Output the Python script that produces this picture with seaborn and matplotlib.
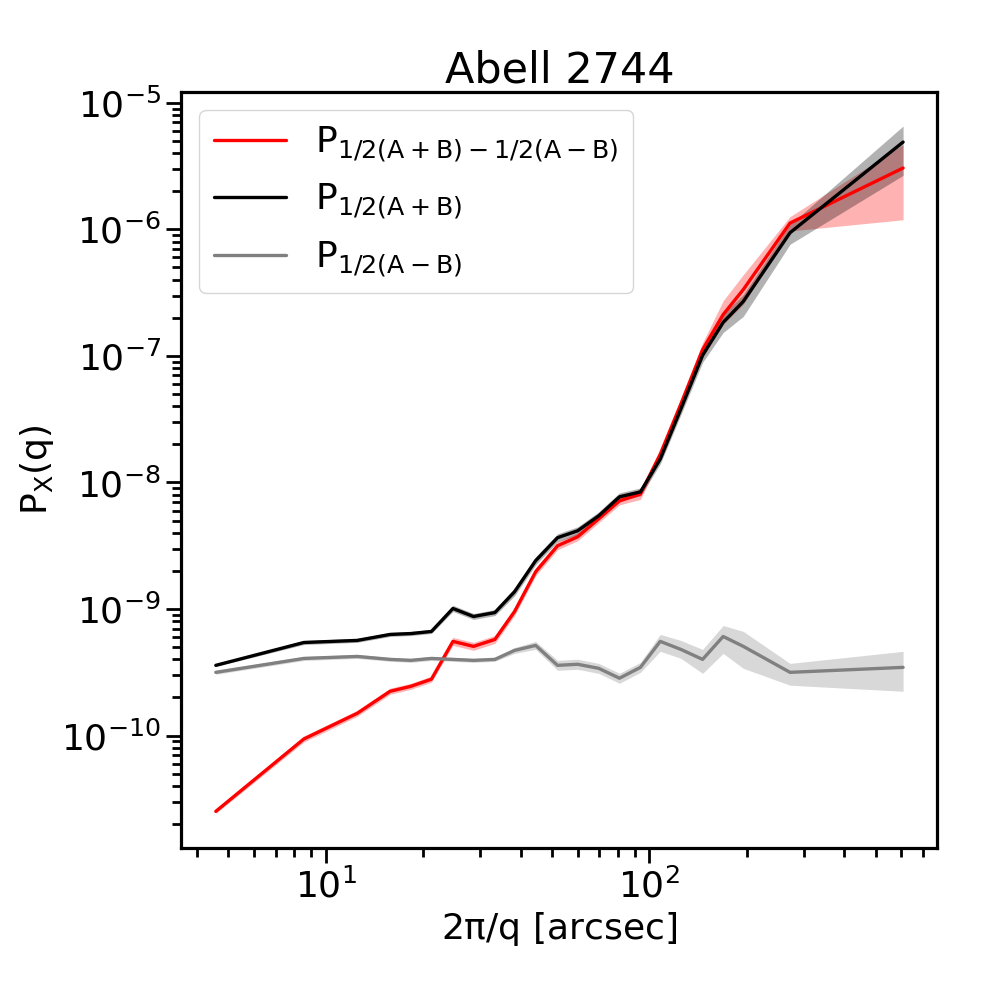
import numpy as np
import pandas as pd
import matplotlib
matplotlib.use('Agg')
import matplotlib.pyplot as plt
import seaborn as sns

# angular scale 2pi/q [arcsec]
scale = [4.57, 8.55, 12.5, 15.8, 18.3, 21.2, 24.7, 28.6, 33.3, 38.3, 44.5, 52.0,
         60.0, 69.7, 80.8, 93.8, 108, 125, 146, 169, 195, 272, 608]

# P_1/2(A+B) - 1/2(A-B)
p_diff = [2.52e-11, 9.4e-11, 1.50e-10, 2.24e-10, 2.45e-10, 2.79e-10, 5.55e-10, 5.07e-10,
          5.75e-10, 9.55e-10, 1.97e-9, 3.16e-9, 3.72e-9, 5.16e-9, 7.15e-9, 8.1e-9,
          1.67e-8, 4.15e-8, 1.12e-7, 2.12e-7, 3.34e-7, 1.12e-6, 3.05e-6]
p_diff_lo = [2.43e-11, 8.9e-11, 1.42e-10, 2.12e-10, 2.32e-10, 2.64e-10, 5.16e-10, 4.72e-10,
             5.35e-10, 8.88e-10, 1.83e-9, 2.94e-9, 3.46e-9, 4.80e-9, 6.65e-9, 7.35e-9,
             1.53e-8, 3.79e-8, 0.99e-7, 1.77e-7, 2.56e-7, 0.97e-6, 1.19e-6]
p_diff_hi = [2.62e-11, 9.93e-11, 1.58e-10, 2.37e-10, 2.59e-10, 2.95e-10, 5.97e-10, 5.45e-10,
             6.18e-10, 1.03e-9, 2.12e-9, 3.40e-9, 4.0e-9, 5.55e-9, 7.69e-9, 8.9e-9,
             1.83e-8, 4.54e-8, 1.27e-7, 2.73e-7, 4.38e-7, 1.26e-6, 4.67e-6]

# P_1/2(A+B)
p_sum = [3.59e-10, 5.44e-10, 5.65e-10, 6.3e-10, 6.4e-10, 6.65e-10, 1.01e-9, 8.73e-10,
         9.38e-10, 1.37e-9, 2.41e-9, 3.66e-9, 4.15e-9, 5.45e-9, 7.7e-9, 8.42e-9,
         1.53e-8, 3.79e-8, 1.01e-7, 1.84e-7, 2.69e-7, 9.4e-7, 4.89e-6]
p_sum_lo = [3.52e-10, 5.24e-10, 5.45e-10, 6.07e-10, 6.17e-10, 6.41e-10, 9.56e-10, 8.27e-10,
            8.88e-10, 1.27e-9, 2.24e-9, 3.40e-9, 3.86e-9, 5.07e-9, 7.16e-9, 7.83e-9,
            1.40e-8, 3.41e-8, 0.89e-7, 1.53e-7, 2.05e-7, 7.62e-7, 2.67e-6]
p_sum_hi = [3.66e-10, 5.64e-10, 5.86e-10, 6.53e-10, 6.64e-10, 6.90e-10, 1.07e-9, 9.22e-10,
            9.9e-10, 1.47e-9, 2.59e-9, 3.93e-9, 4.46e-9, 5.86e-9, 8.28e-9, 9.05e-9,
            1.68e-8, 4.21e-8, 1.14e-7, 2.14e-7, 3.05e-7, 1.09e-6, 6.54e-6]

# P_1/2(A-B)
p_half = [3.16e-10, 4.07e-10, 4.22e-10, 4.0e-10, 3.93e-10, 4.07e-10, 4.0e-10, 3.93e-10,
          4.0e-10, 4.71e-10, 5.16e-10, 3.59e-10, 3.66e-10, 3.40e-10, 2.84e-10, 3.46e-10,
          5.55e-10, 4.80e-10, 4.0e-10, 6.07e-10, 5.07e-10, 3.16e-10, 3.46e-10]
p_half_lo = [3.05e-10, 3.92e-10, 4.07e-10, 3.86e-10, 3.79e-10, 3.92e-10, 3.86e-10, 3.79e-10,
             3.86e-10, 4.46e-10, 4.80e-10, 3.28e-10, 3.34e-10, 3.10e-10, 2.59e-10, 3.16e-10,
             4.63e-10, 4.08e-10, 3.10e-10, 4.46e-10, 3.40e-10, 2.50e-10, 2.24e-10]
p_half_hi = [3.28e-10, 4.22e-10, 4.38e-10, 4.15e-10, 4.08e-10, 4.22e-10, 4.15e-10, 4.08e-10,
             4.15e-10, 4.97e-10, 5.55e-10, 3.93e-10, 4.01e-10, 3.72e-10, 3.11e-10, 3.79e-10,
             6.30e-10, 5.65e-10, 4.80e-10, 7.41e-10, 6.66e-10, 3.72e-10, 4.63e-10]

labels = [r'$\mathrm{P_{1/2(A+B)-1/2(A-B)}}$',
          r'$\mathrm{P_{1/2(A+B)}}$',
          r'$\mathrm{P_{1/2(A-B)}}$']
colors = ['red', 'black', 'gray']

series = [(p_diff, p_diff_lo, p_diff_hi),
          (p_sum, p_sum_lo, p_sum_hi),
          (p_half, p_half_lo, p_half_hi)]

sns.set_style('ticks')
plt.rcParams['font.family'] = ['DejaVu Sans']
plt.rcParams['mathtext.fontset'] = 'dejavusans'
plt.rcParams['text.color'] = 'black'
plt.rcParams['axes.labelcolor'] = 'black'
plt.rcParams['xtick.color'] = 'black'
plt.rcParams['ytick.color'] = 'black'

fig = plt.figure(figsize=(10.08, 10.08), dpi=100)
ax = fig.add_axes([0.18, 0.159, 0.75, 0.75])
ax.set_xscale('log')
ax.set_yscale('log')

for (val, lo, hi), lab, col in zip(series, labels, colors):
    df = pd.DataFrame({'scale': scale, 'P': val})
    sns.lineplot(data=df, x='scale', y='P', color=col, lw=2.4, label=lab, ax=ax)
    ax.fill_between(scale, lo, hi, color=col, alpha=0.3, lw=0)

ax.set_title('Abell 2744', fontsize=31, color='black')
ax.set_xlabel(r'2$\mathrm{\pi}$/q [arcsec]', fontsize=26)
ax.set_ylabel(r'$\mathrm{P_X(q)}$', fontsize=26)

for s in ax.spines.values():
    s.set_linewidth(2.3)
    s.set_color('black')
    s.set_visible(True)
ax.tick_params(which='major', length=11, width=2, labelsize=26, color='black', labelcolor='black')
ax.tick_params(which='minor', length=6.5, width=2, color='black')

leg = ax.legend(loc='upper left', fontsize=26, frameon=True)
for t in leg.get_texts():
    t.set_color('black')

fig.savefig('out.png', dpi=100)
